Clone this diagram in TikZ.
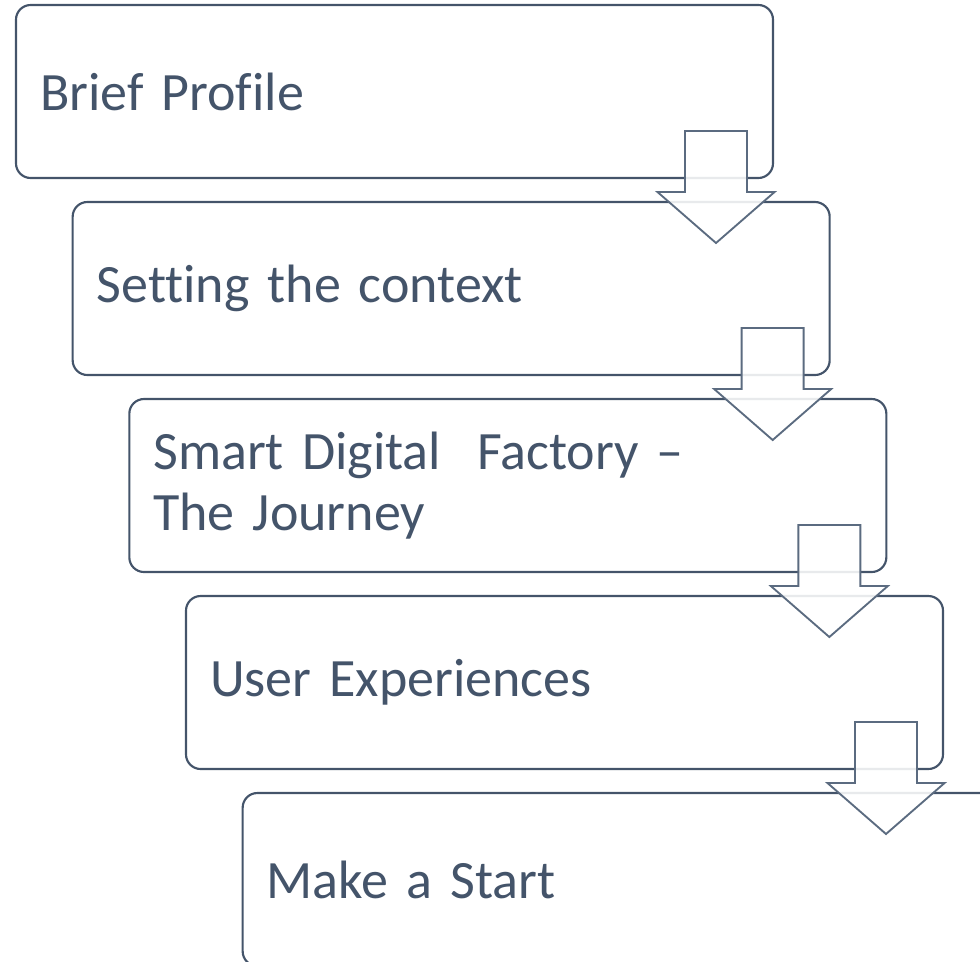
\documentclass[tikz,border=0pt]{standalone}
\usepackage{fontspec}
\setmainfont{Carlito}[Ligatures={NoCommon}]
\usetikzlibrary{positioning, calc}

\definecolor{slate}{HTML}{44546A}
\definecolor{slatelight}{HTML}{5B6B80}

\tikzset{
  stepbox/.style={draw=slate, line width=1.6pt, rounded corners=11pt, outer sep=0pt,
    minimum width=567.75pt, minimum height=129.75pt, text width=531.75pt,
    inner xsep=18pt, align=left, text=slate,
    font=\fontsize{40.5}{45.75}\selectfont},
  downarrow/.style={draw=slatelight, line width=1.4pt, fill=white, fill opacity=0.88}
}

\begin{document}
\begin{tikzpicture}
\clip (0,0) rectangle (735pt,-720.75pt);
\node[stepbox, anchor=north west] (b1) at (12pt,-3.75pt) {Brief Profile};
\node[stepbox, below right=18pt and 42.5pt of b1.south west] (b2) {Setting the context};
\node[stepbox, below right=18pt and 42.5pt of b2.south west] (b3) {Smart Digital\ \ Factory --\\The Journey};
\node[stepbox, below right=18pt and 42.5pt of b3.south west] (b4) {User Experiences};
\node[stepbox, below right=18pt and 42.5pt of b4.south west] (b5) {Make a Start};

% arrows between the steps
\foreach \a in {b1,b2,b3,b4} {
  \begin{scope}[shift={($(\a.south east)+(-42.75pt,35.25pt)$)}]
  \draw[downarrow] (-23.25pt,0) -- (23.25pt,0) -- (23.25pt,-45.75pt) -- (43.9pt,-45.75pt)
    -- (0,-84pt) -- (-43.9pt,-45.75pt) -- (-23.25pt,-45.75pt) -- cycle;
  \end{scope}
}
\end{tikzpicture}
\end{document}
